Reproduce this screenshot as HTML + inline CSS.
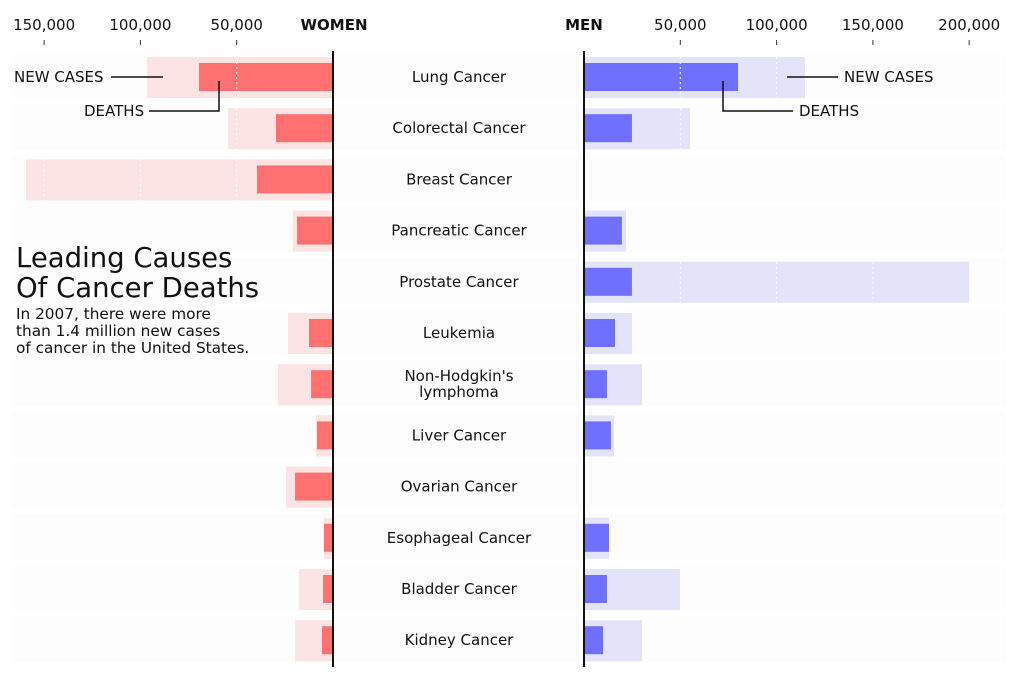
<!DOCTYPE html>
<html><head><meta charset="utf-8"><style>
body{margin:0;background:#fff;}
svg{display:block;font-family:"DejaVu Sans","Liberation Sans",sans-serif;}
</style></head><body>
<svg id="chart" width="1021" height="680" viewBox="0 0 1021 680" xmlns="http://www.w3.org/2000/svg"></svg>
<script>
const categories=["Lung Cancer","Colorectal Cancer","Breast Cancer","Pancreatic Cancer","Prostate Cancer","Leukemia","Non-Hodgkin's|lymphoma","Liver Cancer","Ovarian Cancer","Esophageal Cancer","Bladder Cancer","Kidney Cancer"];
const womenNew=[96600,54500,159400,20800,0,23400,28600,8800,24400,4700,17700,19700];
const womenDeaths=[69600,29600,39500,18700,0,12500,11400,8300,19700,4700,5200,5700];
const menNew=[114700,55000,0,21800,200000,24900,30100,15600,0,13000,49800,30100];
const menDeaths=[80000,24900,0,19700,24900,16100,11900,14000,0,13000,11900,9900];
const womenTicks=[50000,100000,150000];
const menTicks=[50000,100000,150000,200000];
const fmt=v=>v.toLocaleString('en-US');
const svg=document.getElementById('chart');
const NS='http://www.w3.org/2000/svg';
const SC=1.926/1000;
const W0=333,M0=584;
const xW=v=>W0-v*SC, xM=v=>M0+v*SC;
const rowY=i=>77+i*51.2;
function mk(tag,attrs,parent){const e=document.createElementNS(NS,tag);for(const k in attrs)e.setAttribute(k,attrs[k]);(parent||svg).appendChild(e);return e;}
categories.forEach((c,i)=>{
  const r=mk('rect',{x:12,y:rowY(i)-24,width:993,height:46,fill:'#fdfdfd'});
  
  
});
categories.forEach((c,i)=>{
  const y=rowY(i);
  if(womenNew[i]>0){const r=mk('rect',{x:xW(womenNew[i]),y:y-20,width:womenNew[i]*SC,height:41,fill:'#fce3e4'});
    }
  if(womenDeaths[i]>0){const r=mk('rect',{x:xW(womenDeaths[i]),y:y-14,width:womenDeaths[i]*SC,height:28,fill:'#ff7070'});
    }
  if(menNew[i]>0){const r=mk('rect',{x:M0,y:y-20,width:menNew[i]*SC,height:41,fill:'#e3e3fa'});
    }
  if(menDeaths[i]>0){const r=mk('rect',{x:M0,y:y-14,width:menDeaths[i]*SC,height:28,fill:'#7070ff'});
    }
  womenTicks.forEach(t=>{if(womenNew[i]>t){const l=mk('line',{x1:xW(t),x2:xW(t),y1:y-20,y2:y+21,stroke:'#fff','stroke-dasharray':'2,3'});
    }});
  menTicks.forEach(t=>{if(menNew[i]>t){const l=mk('line',{x1:xM(t),x2:xM(t),y1:y-20,y2:y+21,stroke:'#fff','stroke-dasharray':'2,3'});
    }});
  const parts=c.split('|');
  parts.forEach((p,j)=>{
    const t=mk('text',{x:459,y:y+5+(j-(parts.length-1)/2)*16,'text-anchor':'middle','font-size':15,fill:'#111'});
    t.textContent=p;
    
  });
});
let a=mk('line',{x1:W0,x2:W0,y1:51,y2:667,stroke:'#111','stroke-width':2});

a=mk('line',{x1:M0,x2:M0,y1:51,y2:667,stroke:'#111','stroke-width':2});

womenTicks.forEach(t=>{
  const l=mk('line',{x1:xW(t),x2:xW(t),y1:40,y2:45,stroke:'#333'});
  
  const tx=mk('text',{x:xW(t),y:30,'text-anchor':'middle','font-size':15,fill:'#111'});tx.textContent=fmt(t);
  
});
menTicks.forEach(t=>{
  const l=mk('line',{x1:xM(t),x2:xM(t),y1:40,y2:45,stroke:'#333'});
  
  const tx=mk('text',{x:xM(t),y:30,'text-anchor':'middle','font-size':15,fill:'#111'});tx.textContent=fmt(t);
  
});
</script>
<svg style="position:absolute;left:0;top:0" width="1021" height="680">
<g font-family="DejaVu Sans, Liberation Sans, sans-serif" fill="#111">
<text x="334" y="30" text-anchor="middle" font-size="15" font-weight="bold">WOMEN</text>
<text x="584" y="30" text-anchor="middle" font-size="15" font-weight="bold">MEN</text>
<text x="14" y="82" font-size="15">NEW CASES</text>
<text x="84" y="116" font-size="15">DEATHS</text>
<text x="844" y="82" font-size="15">NEW CASES</text>
<text x="799" y="116" font-size="15">DEATHS</text>
<text x="16" y="267" font-size="27.5">Leading Causes</text>
<text x="16" y="297" font-size="27.5">Of Cancer Deaths</text>
<text x="16" y="319" font-size="15.3">In 2007, there were more</text>
<text x="16" y="336" font-size="15.3">than 1.4 million new cases</text>
<text x="16" y="353" font-size="15.3">of cancer in the United States.</text>
</g>
<g stroke="#111" stroke-width="1.5" fill="none">
<path d="M111 77 H163"/>
<path d="M149 111 H219 V81"/>
<path d="M787 77 H838"/>
<path d="M723 81 V111 H793"/>
</g>
</svg>
</body></html>
